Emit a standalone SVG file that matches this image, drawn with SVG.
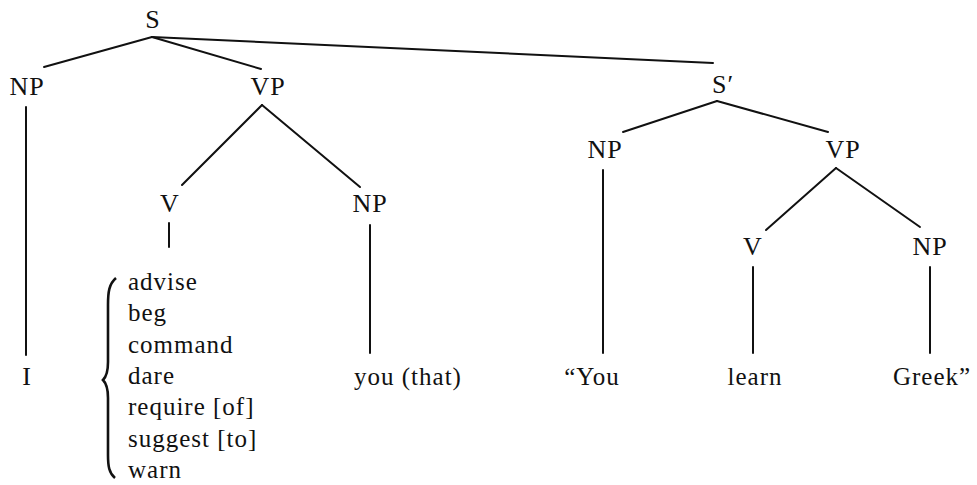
<svg xmlns="http://www.w3.org/2000/svg" width="977" height="485" viewBox="0 0 977 485">
<style>
.t{font-family:"Liberation Serif","Times New Roman",serif;font-size:25px;fill:#111;letter-spacing:1px}
.c{font-family:"Liberation Serif","Times New Roman",serif;font-size:26px;fill:#111;text-anchor:middle;letter-spacing:1px}
.m{text-anchor:middle}
.e{stroke:#111;stroke-width:2;fill:none;stroke-linecap:round}
</style>
<rect width="977" height="485" fill="#fff"/>
<g id="edges">
<line class="e" x1="152" y1="37" x2="44" y2="67"/>
<line class="e" x1="152" y1="37" x2="261" y2="69"/>
<line class="e" x1="152" y1="37" x2="713" y2="63"/>
<line class="e" x1="26" y1="107" x2="26" y2="355"/>
<line class="e" x1="262" y1="105" x2="182" y2="185"/>
<line class="e" x1="262" y1="105" x2="360" y2="187"/>
<line class="e" x1="169" y1="223" x2="169" y2="247"/>
<line class="e" x1="370" y1="225" x2="370" y2="353"/>
<line class="e" x1="717" y1="101" x2="623" y2="132"/>
<line class="e" x1="717" y1="101" x2="828" y2="132"/>
<line class="e" x1="603" y1="170" x2="603" y2="353"/>
<line class="e" x1="836" y1="168" x2="766" y2="230"/>
<line class="e" x1="836" y1="168" x2="920" y2="227"/>
<line class="e" x1="753" y1="267" x2="753" y2="353"/>
<line class="e" x1="930" y1="267" x2="930" y2="353"/>
</g>
<g id="S"><text class="c" x="153" y="28">S</text></g>
<g id="NP1"><text class="c" x="27" y="95">NP</text></g>
<g id="VP1"><text class="c" x="268" y="95">VP</text></g>
<g id="V1"><text class="c" x="170" y="212">V</text></g>
<g id="NP2"><text class="c" x="370" y="212">NP</text></g>
<g id="Sp"><text class="c" x="723" y="93">S′</text></g>
<g id="NP3"><text class="c" x="605" y="158">NP</text></g>
<g id="VP2"><text class="c" x="843" y="158">VP</text></g>
<g id="V2"><text class="c" x="753" y="255">V</text></g>
<g id="NP4"><text class="c" x="930" y="255">NP</text></g>
<g id="I"><text class="c" x="27" y="385">I</text></g>
<g id="verbs">
<path d="M116,278 C109,284 108,292 108,305 L108,362 C108,372 106,377 103,380 C106,383 108,388 108,398 L108,455 C108,466 109,473 115,478" stroke="#111" stroke-width="2.6" fill="none"/>
<text class="t" x="128" y="290">advise</text>
<text class="t" x="128" y="321">beg</text>
<text class="t" x="128" y="353">command</text>
<text class="t" x="128" y="384">dare</text>
<text class="t" x="128" y="415">require [of]</text>
<text class="t" x="128" y="447">suggest [to]</text>
<text class="t" x="128" y="478">warn</text>
</g>
<g id="you"><text class="t m" x="408" y="385">you (that)</text></g>
<g id="You"><text class="t m" x="592" y="385">“You</text></g>
<g id="learn"><text class="t m" x="755" y="385">learn</text></g>
<g id="Greek"><text class="t m" x="932" y="385">Greek”</text></g>
</svg>
